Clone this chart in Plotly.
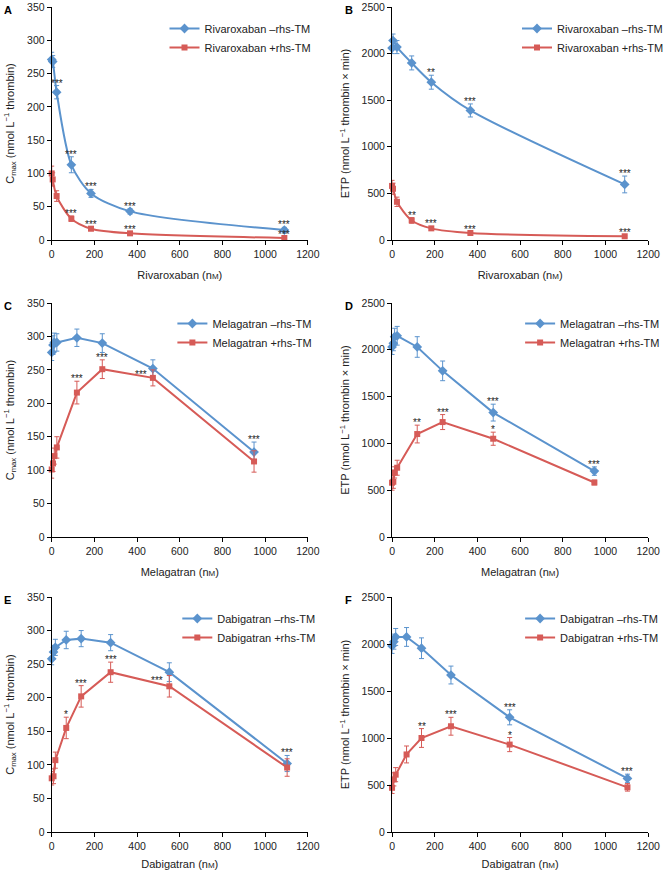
import plotly.graph_objects as go

# ---------------- data ----------------
riva_x = [0, 4.6, 23, 92, 184, 367, 1090]
riva_cmax_minus = [271, 268, 222, 113, 70, 43, 15]
riva_cmax_minus_err = [11, 9, 10, 12, 6, 4, 4]
riva_cmax_plus = [100, 91, 66, 32, 17, 10, 3]
riva_cmax_plus_err = [11, 10, 8, 4, 3, 2, 2]
riva_etp_minus = [2060, 2140, 2070, 1900, 1693, 1390, 596]
riva_etp_minus_err = [60, 70, 70, 75, 75, 70, 90]
riva_etp_plus = [580, 550, 410, 210, 125, 75, 40]
riva_etp_plus_err = [60, 60, 50, 30, 20, 15, 10]

mela_x = [0, 6, 12, 24, 118, 237, 474, 948]
mela_cmax_minus = [276, 287, 291, 291, 298, 290, 252, 127]
mela_cmax_minus_err = [12, 14, 14, 13, 13, 14, 13, 15]
mela_cmax_plus = [101, 110, 121, 134, 216, 251, 238, 113]
mela_cmax_plus_err = [13, 12, 12, 16, 17, 14, 12, 16]
mela_etp_minus = [2030, 2070, 2140, 2150, 2030, 1775, 1329, 704]
mela_etp_minus_err = [80, 80, 90, 100, 110, 105, 90, 45]
mela_etp_plus = [580, 590, 690, 740, 1100, 1228, 1050, 582]
mela_etp_plus_err = [80, 70, 60, 80, 95, 80, 70, 25]

dabi_x = [0, 8.5, 17, 68, 138, 276, 551, 1103]
dabi_cmax_minus = [258, 268, 275, 286, 288, 282, 238, 102]
dabi_cmax_minus_err = [9, 10, 12, 13, 12, 12, 14, 12]
dabi_cmax_plus = [80, 83, 107, 155, 202, 238, 217, 96]
dabi_cmax_plus_err = [10, 11, 12, 16, 16, 15, 16, 13]
dabi_etp_minus = [1980, 2025, 2075, 2075, 1955, 1670, 1220, 570]
dabi_etp_minus_err = [80, 80, 90, 100, 110, 95, 80, 45]
dabi_etp_plus = [470, 560, 610, 825, 1000, 1125, 930, 475]
dabi_etp_plus_err = [60, 70, 75, 90, 100, 95, 75, 40]

drug_names = ["Rivaroxaban", "Melagatran", "Dabigatran"]
panel_letters = ["A", "B", "C", "D", "E", "F"]
x_ticks = [0, 200, 400, 600, 800, 1000, 1200]
cmax_ticks = [0, 50, 100, 150, 200, 250, 300, 350]
etp_ticks = [0, 500, 1000, 1500, 2000, 2500]

# significance marks: (series, point index, label)
stars = {
    "A": [("minus", 2, "***"), ("minus", 3, "***"), ("minus", 4, "***"), ("minus", 5, "***"),
          ("minus", 6, "***"), ("plus", 3, "***"), ("plus", 4, "***"), ("plus", 5, "***"),
          ("plus", 6, "***")],
    "B": [("minus", 4, "**"), ("minus", 5, "***"), ("minus", 6, "***"), ("plus", 3, "**"),
          ("plus", 4, "***"), ("plus", 5, "***"), ("plus", 6, "***")],
    "C": [("plus", 4, "***"), ("plus", 5, "***"), ("plus-left", 6, "***"), ("minus", 7, "***")],
    "D": [("plus", 4, "**"), ("plus", 5, "***"), ("minus", 6, "***"), ("plus", 6, "*"),
          ("minus", 7, "***")],
    "E": [("plus", 3, "*"), ("plus", 4, "***"), ("plus", 5, "***"), ("plus-left", 6, "***"),
          ("minus", 7, "***")],
    "F": [("plus", 4, "**"), ("plus", 5, "***"), ("minus", 6, "***"), ("plus", 6, "*"),
          ("minus", 7, "***")],
}

panels = [
    ("A", riva_x, riva_cmax_minus, riva_cmax_minus_err, riva_cmax_plus, riva_cmax_plus_err, "cmax", 0),
    ("B", riva_x, riva_etp_minus, riva_etp_minus_err, riva_etp_plus, riva_etp_plus_err, "etp", 0),
    ("C", mela_x, mela_cmax_minus, mela_cmax_minus_err, mela_cmax_plus, mela_cmax_plus_err, "cmax", 1),
    ("D", mela_x, mela_etp_minus, mela_etp_minus_err, mela_etp_plus, mela_etp_plus_err, "etp", 1),
    ("E", dabi_x, dabi_cmax_minus, dabi_cmax_minus_err, dabi_cmax_plus, dabi_cmax_plus_err, "cmax", 2),
    ("F", dabi_x, dabi_etp_minus, dabi_etp_minus_err, dabi_etp_plus, dabi_etp_plus_err, "etp", 2),
]

# ---------------- styling / layout ----------------
W, H = 669, 870
BLUE = "#5b93cd"
RED = "#d65b57"
FONT = "Liberation Sans, Arial, Helvetica, sans-serif"

col_px = [(52.5, 312.5), (398, 658)]
row_px = [(7, 240), (303, 537), (597, 832)]
legend_px = [(167, 14), (525, 14), (175, 309), (528, 309), (180, 604), (528, 604)]

fig = go.Figure()
annotations = []

for i, (letter, xs, ym, em, yp, ep, kind, drug_i) in enumerate(panels):
    r, c = divmod(i, 2)
    n = i + 1
    xa = "x" if n == 1 else f"x{n}"
    ya = "y" if n == 1 else f"y{n}"
    lg = "legend" if n == 1 else f"legend{n}"
    shape = "spline" if drug_i == 0 else "linear"
    drug = drug_names[drug_i]
    for name, ys, es, color, sym, msize in [
        (f"{drug} \u2013rhs-TM", ym, em, BLUE, "diamond", 7.5),
        (f"{drug} +rhs-TM", yp, ep, RED, "square", 6),
    ]:
        fig.add_trace(go.Scatter(
            x=xs, y=ys, name=name, mode="lines+markers",
            line=dict(color=color, width=2, shape=shape, smoothing=0.8),
            marker=dict(symbol=sym, size=msize, color=color),
            error_y=dict(type="data", array=es, visible=True, color=color, thickness=1, width=2.5),
            xaxis=xa, yaxis=ya, legend=lg, cliponaxis=False,
        ))

    x0, x1 = col_px[c]
    y0, y1 = row_px[r]
    xdom = [x0 / W, x1 / W]
    ydom = [1 - y1 / H, 1 - y0 / H]
    key_x = "xaxis" if n == 1 else f"xaxis{n}"
    key_y = "yaxis" if n == 1 else f"yaxis{n}"
    if kind == "cmax":
        ytitle = "C<sub>max</sub> (nmol L<sup>\u22121</sup> thrombin)"
        yticks = cmax_ticks
        yr = [0, 350]
        ystand = 10
    else:
        ytitle = "ETP (nmol L<sup>\u22121</sup> thrombin \u00d7 min)"
        yticks = etp_ticks
        yr = [0, 2500]
        ystand = 9
    common = dict(showline=True, linecolor="black", linewidth=1, ticks="outside",
                  ticklen=4, tickwidth=1, tickcolor="black", showgrid=False,
                  zeroline=False, tickfont=dict(size=10.5, color="#222"),
                  automargin=False)
    fig.update_layout(**{
        key_x: dict(domain=xdom, range=[0, 1200], tickvals=x_ticks, anchor=ya,
                    title=dict(text=f"{drug} (n<span style='font-size:8px'>M</span>)",
                               font=dict(size=11, color="#222"), standoff=12),
                    **common),
        key_y: dict(domain=ydom, range=yr, tickvals=yticks, anchor=xa,
                    title=dict(text=ytitle, font=dict(size=11, color="#222"), standoff=ystand),
                    **common),
        lg: dict(x=legend_px[i][0] / W, y=1 - legend_px[i][1] / H, xanchor="left",
                 yanchor="top", bgcolor="rgba(0,0,0,0)", font=dict(size=11, color="#222"),
                 itemwidth=30, tracegroupgap=0),
    })

    # panel letter
    annotations.append(dict(text=f"<b>{letter}</b>", x=(x0 - 50) / W, y=1 - (y0 + 3) / H,
                            xref="paper", yref="paper", xanchor="left", yanchor="middle",
                            showarrow=False, font=dict(size=11, color="black")))
    # significance stars
    for series, idx, label in stars[letter]:
        left = series.endswith("-left")
        base = "minus" if series.startswith("minus") else "plus"
        vals, errs = (ym, em) if base == "minus" else (yp, ep)
        if left:
            annotations.append(dict(text=label, x=xs[idx], y=vals[idx] + errs[idx] * 0.6,
                                    xref=xa, yref=ya, xanchor="right", yanchor="middle",
                                    xshift=-4, yshift=-1, showarrow=False,
                                    font=dict(size=10, color="#222")))
        else:
            annotations.append(dict(text=label, x=xs[idx], y=vals[idx] + errs[idx],
                                    xref=xa, yref=ya, xanchor="center", yanchor="bottom",
                                    yshift=-5, showarrow=False,
                                    font=dict(size=10, color="#222")))

fig.update_layout(
    width=W, height=H, margin=dict(l=0, r=0, t=0, b=0),
    paper_bgcolor="white", plot_bgcolor="white",
    font=dict(family=FONT, size=11, color="#222"),
    annotations=annotations,
)

fig.write_html("out.html", config={"displayModeBar": False},
               post_script="document.body.style.margin='0px';document.body.style.overflow='hidden';")
